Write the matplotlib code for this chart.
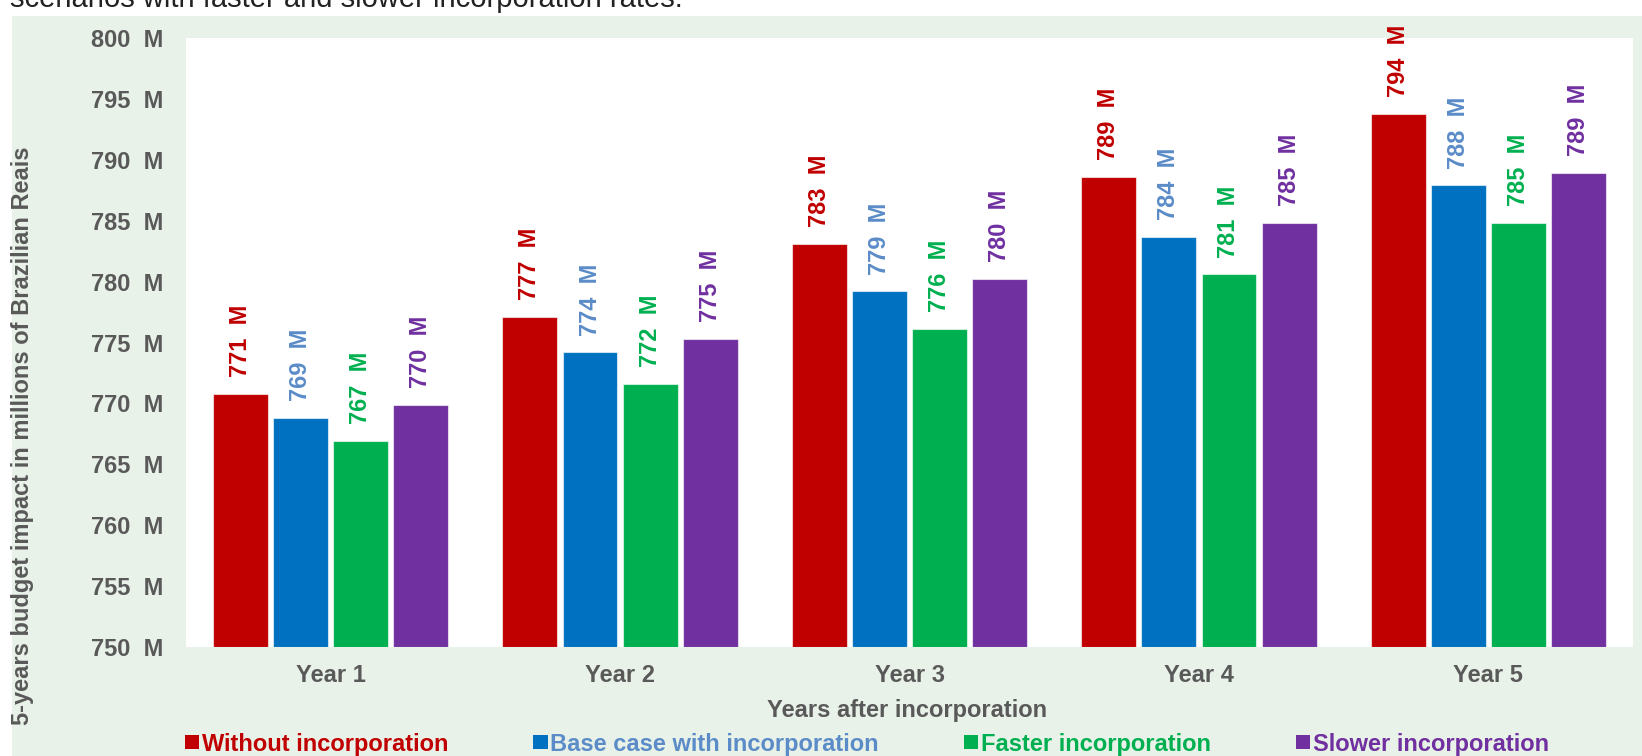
import matplotlib
matplotlib.use("Agg")
from matplotlib import pyplot as plt
from matplotlib.patches import Patch, Rectangle
import numpy as np

plt.rcParams['font.family'] = ['Liberation Sans', 'DejaVu Sans']

years = ["Year 1", "Year 2", "Year 3", "Year 4", "Year 5"]
series = ["Without incorporation", "Base case with incorporation",
          "Faster incorporation", "Slower incorporation"]

without_inc = [770.8, 777.1, 783.1, 788.6, 793.8]
base_case = [768.8, 774.2, 779.2, 783.7, 787.9]
faster_inc = [766.9, 771.6, 776.1, 780.6, 784.8]
slower_inc = [769.9, 775.3, 780.2, 784.8, 788.95]

bar_colors = ["#C00000", "#0070C0", "#00B050", "#7030A0"]
text_colors = ["#C00000", "#5B8CC8", "#00B050", "#7030A0"]
gray = "#595959"
bg = "#E9F2E9"

fig = plt.figure(figsize=(16.42, 7.56), dpi=100)
fig.patches.append(Rectangle((12 / 1642, 0), 1, 1 - 16 / 756, transform=fig.transFigure,
                             facecolor=bg, edgecolor="none", zorder=-10))
fig.text(10 / 1642, 1 - 7 / 756, "scenarios with faster and slower incorporation rates.",
         fontsize=21, color="#222222", va="baseline", ha="left")

ax = fig.add_axes([186 / 1642, 1 - 647 / 756, (1633 - 186) / 1642, (647 - 38) / 756])
ax.set_facecolor("white")

x = np.arange(len(years))
width = 0.19
step = 0.208
all_series = [without_inc, base_case, faster_inc, slower_inc]
for i, vals in enumerate(all_series):
    pos = x + (i - 1.5) * step
    ax.bar(pos, np.array(vals) - 750, width, bottom=750, color=bar_colors[i],
           edgecolor=(1, 1, 1, 0.6), linewidth=0.8)
    for xp, v in zip(pos, vals):
        ax.annotate(f"{v:.0f}  M", (xp, v), xytext=(0, 12), textcoords="offset points",
                    rotation=90, ha="center", va="bottom", fontsize=17,
                    fontweight="bold", color=text_colors[i])

ax.set_xlim(-0.5, len(years) - 0.5)
ax.set_ylim(750, 800)
ax.set_yticks(np.arange(750, 801, 5))
ax.set_yticklabels([f"{t}  M" for t in range(750, 801, 5)])
ax.set_xticks(x)
ax.set_xticklabels(years)
ax.tick_params(axis="y", length=0, pad=16, labelsize=17, labelcolor=gray)
ax.tick_params(axis="x", length=0, pad=12, labelsize=17, labelcolor=gray)
for lbl in ax.get_xticklabels() + ax.get_yticklabels():
    lbl.set_fontweight("bold")
for s in ax.spines.values():
    s.set_visible(False)

fig.text(907 / 1642, 1 - 710 / 756, "Years after incorporation", ha="center", va="center",
         fontsize=17, fontweight="bold", color=gray)
fig.text(23 / 1642, 1 - 436 / 756, "5-years budget impact in millions of Brazilian Reais",
         rotation=90, ha="center", va="center", fontsize=17, fontweight="bold", color=gray)

handles = [Patch(facecolor=c, edgecolor="none") for c in bar_colors]
leg = fig.legend(handles, series, loc="center", bbox_to_anchor=(867 / 1642, 1 - 744 / 756),
                 ncol=4, frameon=False, handlelength=0.6, handleheight=0.55,
                 handletextpad=0.12, columnspacing=3.6, borderpad=0,
                 prop={"size": 17, "weight": "bold"})
for t, c in zip(leg.get_texts(), text_colors):
    t.set_color(c)

fig.savefig("out.png", dpi=100, facecolor="white")
